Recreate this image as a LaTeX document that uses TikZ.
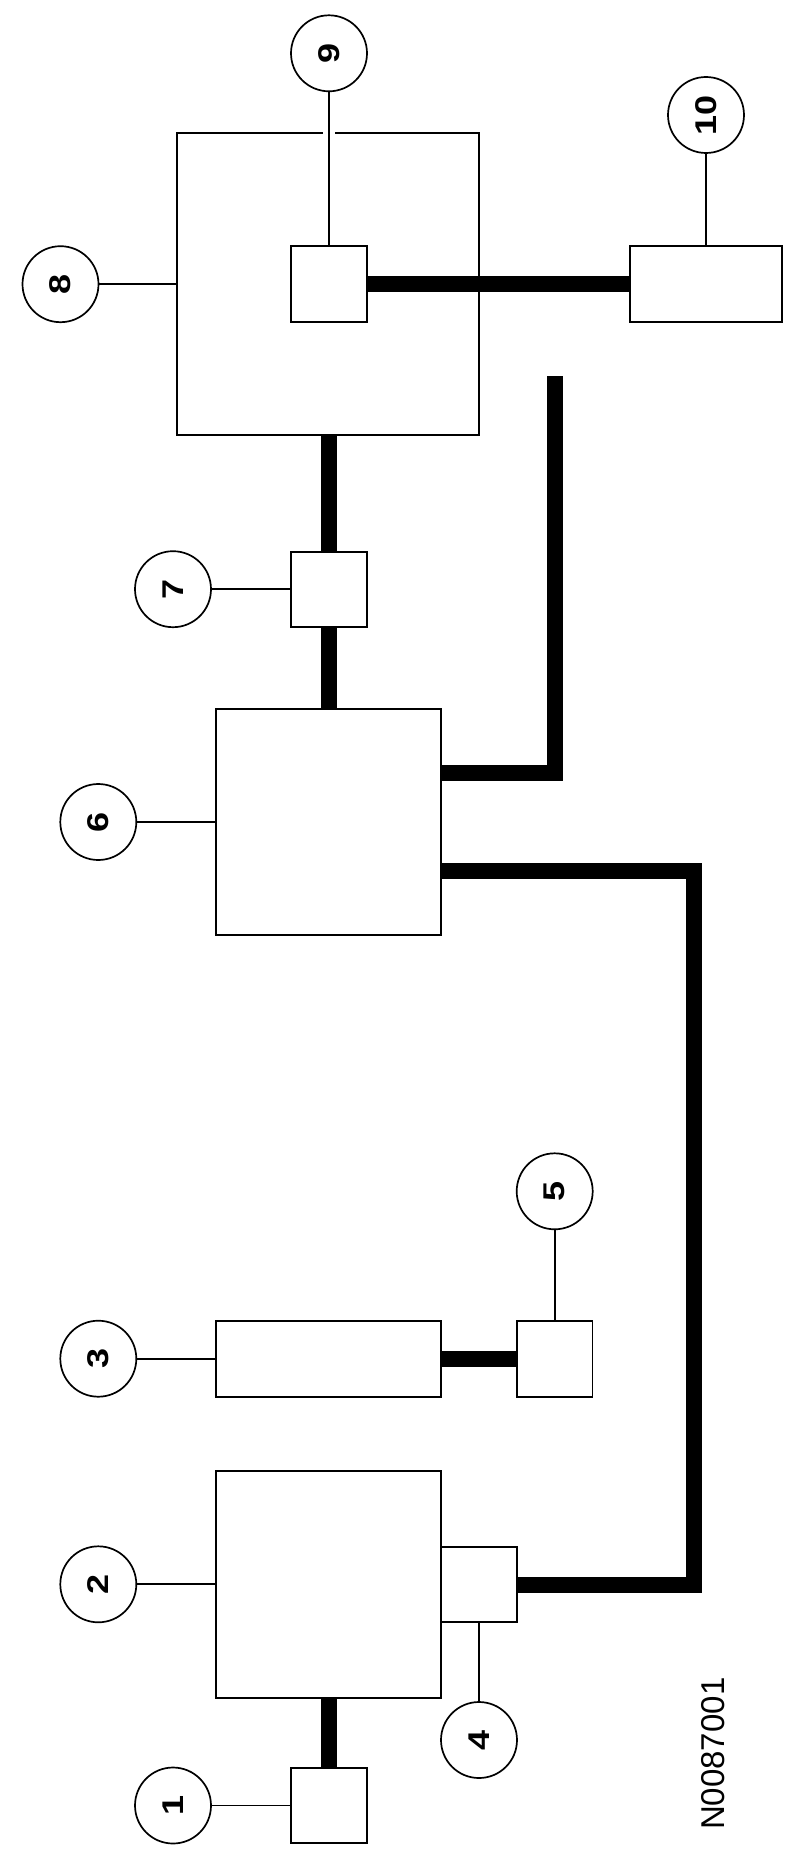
\documentclass[tikz,border=0pt]{standalone}
\usepackage{fontspec}
\setmainfont{Liberation Sans}
\usepackage{graphicx}
\newcommand{\rdig}[1]{\rotatebox{90}{\scalebox{1.2}[1]{\bfseries #1}}}
\begin{document}
\begin{tikzpicture}[x=1pt,y=-1pt,
  box/.style 2 args={draw,rectangle,line width=1.9pt,inner sep=0pt,outer sep=0pt,minimum width=#1,minimum height=#2},
  num/.style={draw,circle,line width=1.7pt,inner sep=0pt,outer sep=0pt,minimum size=76pt,font=\fontsize{30}{36}\selectfont},
  thinl/.style={line width=1.9pt},
  thickl/.style={line width=16pt,line cap=butt,line join=miter}]
\useasboundingbox (0,0) rectangle (790,1870);
% boxes
\node[box={302.5pt}{301.7pt}] (b8) at (327.8,284.2) {};
\node[box={75.6pt}{76pt}] (b9) at (329,283.7) {};
\node[box={151.2pt}{76pt}] (b10) at (706,283.7) {};
\node[box={75.6pt}{75pt}] (b7) at (329,589.2) {};
\node[box={225.2pt}{226pt}] (b6) at (328.4,822) {};
\node[box={225.2pt}{76pt}] (b3) at (328.4,1358.7) {};
\node[box={75.5pt}{76pt}] (b5) at (554.7,1358.7) {};
\node[box={225.2pt}{226.7pt}] (b2) at (328.4,1584.3) {};
\node[box={76pt}{75pt}] (b4) at (479,1584.8) {};
\node[box={75.6pt}{75.6pt}] (b1) at (329,1805.5) {};
% callouts
\node[num] (c1) at (173,1805.5) {\rdig{1}};
\node[num] (c2) at (98.3,1584.3) {\rdig{2}};
\node[num] (c3) at (98.3,1358.7) {\rdig{3}};
\node[num] (c4) at (479,1740) {\rdig{4}};
\node[num] (c5) at (554.7,1191.3) {\rdig{5}};
\node[num] (c6) at (98.3,822) {\rdig{6}};
\node[num] (c7) at (173,589.2) {\rdig{7}};
\node[num] (c8) at (60.5,284.2) {\rdig{8}};
\node[num] (c9) at (329,53.3) {\rdig{9}};
\node[num] (c10) at (706,115) {\rdig{10}};
\node[font=\fontsize{33}{40}\selectfont,inner sep=0pt] (code) at (713,1753.7) {\rotatebox{90}{N0087001}};
% leader lines
\draw[white,line width=11.4pt] (329,129.5) -- (329,137);
\draw[thinl] (c1) -- (b1.west);
\draw[thinl] (c2) -- (b2.west);
\draw[thinl] (c3) -- (b3.west);
\draw[thinl] (b4.south) -- (c4);
\draw[thinl] (c5) -- (b5.north);
\draw[thinl] (c6) -- (b6.west);
\draw[thinl] (c7) -- (b7.west);
\draw[thinl] (c8) -- (b8.west);
\draw[thinl] (c9) -- (b9.north);
\draw[thinl] (c10) -- (b10.north);
% harness lines
\coordinate (e1) at (554.5,376);
\coordinate (y1) at (0,773.3);
\coordinate (y2) at (0,871);
\coordinate (k2) at (694.3,0);
\draw[thickl] (b9.east) -- (b10.west);
\draw[thickl] (b7.north |- b8.south) -- (b7.north);
\draw[thickl] (b7.south) -- (b7.south |- b6.north);
\draw[thickl] (b6.east |- y1) -| (e1);
\draw[thickl] (b6.east |- y2) -| (k2 |- b4.east) -- (b4.east);
\draw[thickl] (b3.east) -- (b5.west);
\draw[thickl] (b1.north |- b2.south) -- (b1.north);
\end{tikzpicture}
\end{document}
